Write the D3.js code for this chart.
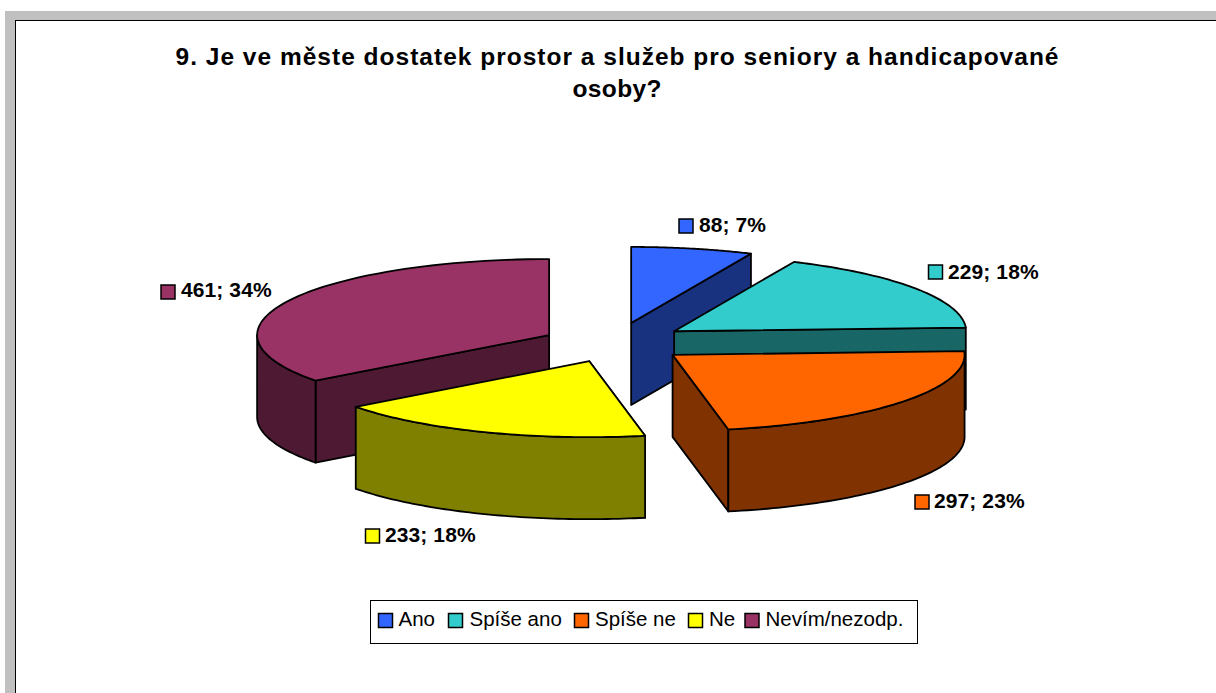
<!DOCTYPE html>
<html><head><meta charset="utf-8">
<script src="https://cdn.jsdelivr.net/npm/d3@7"></script>
<style>html,body{margin:0;padding:0;background:#fff}svg{display:block}text{font-family:"Liberation Sans",Arial,sans-serif;fill:#000}</style>
</head><body><svg id="c" width="1216" height="693"></svg>
<script>
const categories = ["Ano","Spíše ano","Spíše ne","Ne","Nevím/nezodp."];
const values = [88,229,297,233,461];
const percentLabels = ["7%","18%","23%","18%","34%"];
const topColors = ["#3366FF","#33CCCC","#FF6600","#FFFF00","#993366"];
const wallColors = ["#19327F","#196666","#803300","#808000","#4D1933"];
const titleLines = ["9. Je ve měste dostatek prostor a služeb pro seniory a handicapované","osoby?"];

const svg = d3.select("#c");
svg.append("rect").attr("x",5).attr("y",11).attr("width",1211).attr("height",682).attr("fill","#C0C0C0");
svg.append("rect").attr("x",15.5).attr("y",20.5).attr("width",1201).attr("height",673).attr("fill","#fff").attr("stroke","#000").attr("stroke-width",1);

const titleWidths=[883,89];
svg.selectAll("text.t").data(titleLines).join("text").attr("class","t")
  .attr("x",617).attr("y",(d,i)=>65+i*32).attr("text-anchor","middle")
  .attr("font-size",24.5).attr("font-weight","bold")
  .attr("textLength",(d,i)=>titleWidths[i]).attr("lengthAdjust","spacing").text(d=>d);

const RX=292, RY=76, DEPTH=82;
const CX=614, CY=342.5, EX=77, EY=20;
const nudge=[[1,0],[-3.5,0],[-2,0],[3,0],[4,1.5]];
const pie=d3.pie().sort(null).value(d=>d)(values);
const slices=pie.map((p,i)=>{
  const m=(p.startAngle+p.endAngle)/2;
  return {i,a0:p.startAngle,a1:p.endAngle,
    cx:CX+EX*Math.sin(m)+nudge[i][0], cy:CY-EY*Math.cos(m)+nudge[i][1]};
});
const pt=(s,a,dz=0)=>[s.cx+RX*Math.sin(a), s.cy-RY*Math.cos(a)+dz];
const arcPts=(s,a0,a1,dz=0)=>d3.range(0,61).map(k=>pt(s,a0+(a1-a0)*k/60,dz));
const line=d3.line();
const closed=pts=>line(pts)+"Z";
const draw=(pts,fill)=>svg.append("path").attr("d",closed(pts)).attr("fill",fill)
  .attr("stroke","#000").attr("stroke-width",1.8).attr("stroke-linejoin","round");

[4,0,1,3,2].forEach(i=>{
  const s=slices[i], c=[s.cx,s.cy], cb=[s.cx,s.cy+DEPTH], w=wallColors[i];
  const radial=a=>[c,pt(s,a),pt(s,a,DEPTH),cb];
  draw(radial(i<3?s.a1:s.a0),w);
  const lo=Math.max(s.a0,Math.PI/2), hi=Math.min(s.a1,Math.PI*3/2);
  if(hi>lo) draw(arcPts(s,lo,hi).concat(arcPts(s,hi,lo,DEPTH)),w);
  draw([c].concat(arcPts(s,s.a0,s.a1)),topColors[i]);
});

const labelBox=[[679,219],[928.5,265],[915,495],[365.5,529],[161,285]];
const labelTxt=[[699,232],[948,279],[934,508],[385,542],[181,297]];
categories.forEach((c,i)=>{
  svg.append("rect").attr("x",labelBox[i][0]).attr("y",labelBox[i][1]).attr("width",14).attr("height",14)
    .attr("fill",topColors[i]).attr("stroke","#000").attr("stroke-width",1.5);
  svg.append("text").attr("x",labelTxt[i][0]).attr("y",labelTxt[i][1]).attr("font-size",21).attr("font-weight","bold")
    .attr("letter-spacing",0.1).text(values[i]+"; "+percentLabels[i]);
});

svg.append("rect").attr("x",370.5).attr("y",600.5).attr("width",547).attr("height",43)
  .attr("fill","#fff").attr("stroke","#000").attr("stroke-width",1);
const legX=[378.5,448.5,574.5,688.5,745], legT=[398.5,469.5,595,709,765.5];
categories.forEach((c,i)=>{
  svg.append("rect").attr("x",legX[i]).attr("y",613.5).attr("width",14).attr("height",14)
    .attr("fill",topColors[i]).attr("stroke","#000").attr("stroke-width",1.5);
  svg.append("text").attr("x",legT[i]).attr("y",626).attr("font-size",20.5).text(c);
});
</script></body></html>
